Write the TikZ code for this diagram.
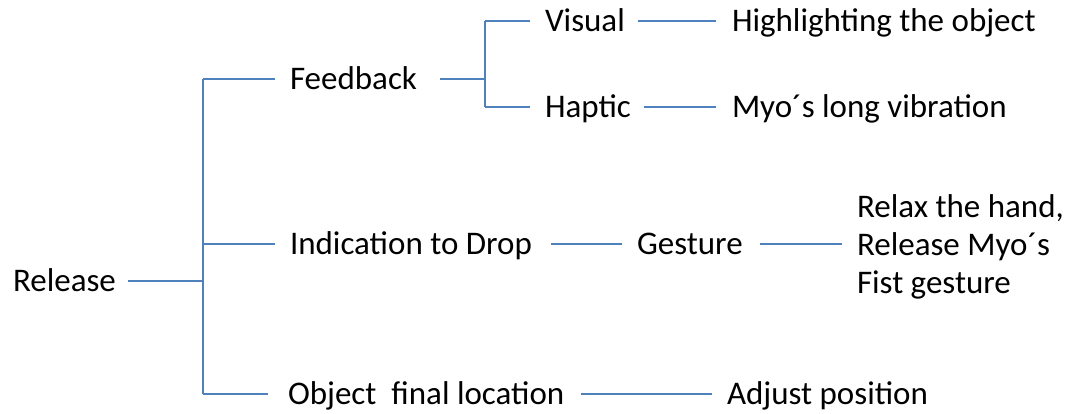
\documentclass[tikz,border=0pt]{standalone}
\usepackage{fontspec}
\setmainfont{Carlito}
\definecolor{linkblue}{RGB}{79,129,189}
\begin{document}
\begin{tikzpicture}[x=0.75pt,y=-0.75pt,
  lbl/.style={anchor=west, inner sep=0pt, outer sep=0pt, text height=18.41pt, text depth=2.48pt,
              font=\fontsize{24.75}{28.5}\selectfont},
  mlbl/.style={anchor=west, inner sep=0pt, outer sep=0pt, font=\fontsize{24.75}{28.5}\selectfont},
  link/.style={draw=linkblue, line width=1.4pt}]
\useasboundingbox (0,0) rectangle (1065,414);
% nodes
\node[lbl] (release)    at (13,281)  {Release};
\node[lbl] (feedback)   at (290,79)  {Feedback};
\node[lbl] (indication) at (290,244) {Indication to Drop};
\node[lbl] (object)     at (288,394) {Object\ \ final location};
\node[lbl] (visual)     at (545,21)  {Visual};
\node[lbl] (haptic)     at (545,107) {Haptic};
\node[lbl] (highlight)  at (732,21)  {Highlighting the object};
\node[lbl] (vibration)  at (732,107) {Myo´s long vibration};
\node[lbl] (gesture)    at (637,244) {Gesture};
\node[mlbl] (relax)     at (857,248) {\begin{tabular}{@{}l@{}}Relax the hand,\\Release Myo´s\\Fist gesture\end{tabular}};
\node[lbl] (adjust)     at (727,394) {Adjust position};
% junction coordinates
\coordinate (J1)   at (203,281);
\coordinate (ctop) at (203,79);
\coordinate (cmid) at (203,244);
\coordinate (cbot) at (203,394);
\coordinate (J2)   at (485,79);
\coordinate (J2t)  at (485,21);
\coordinate (J2b)  at (485,107);
% connectors
\draw[link, shorten <=9pt] (release.east) -- (J1);
\draw[link] (ctop) -- (cbot);
\draw[link, shorten >=11.25pt] (ctop) -- (feedback.west);
\draw[link, shorten >=11.25pt] (cmid) -- (indication.west);
\draw[link, shorten >=15pt] (cbot) -- (object.west);
\draw[link, shorten <=17pt] (feedback.east) -- (J2);
\draw[link] (J2t) -- (J2b);
\draw[link, shorten >=11.25pt] (J2t) -- (visual.west);
\draw[link, shorten >=11.25pt] (J2b) -- (haptic.west);
\draw[link, shorten <=9.75pt, shorten >=12pt] (visual.east) -- (highlight.west);
\draw[link, shorten <=9.75pt, shorten >=12pt] (haptic.east) -- (vibration.west);
\draw[link, shorten <=14.25pt, shorten >=11.25pt] (indication.east) -- (gesture.west);
\draw[link, shorten <=12.75pt, shorten >=11.25pt] (gesture.east) -- (gesture.east -| relax.west);
\draw[link, shorten <=12.75pt, shorten >=11.25pt] (object.east) -- (adjust.west);
\end{tikzpicture}
\end{document}
